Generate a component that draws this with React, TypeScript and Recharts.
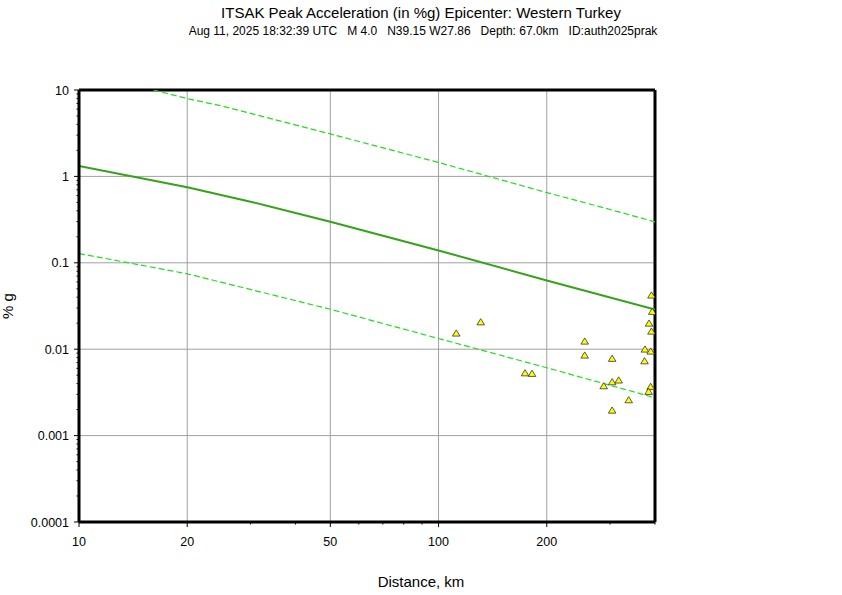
import React from "react";
import {
  ComposedChart,
  Line,
  Scatter,
  XAxis,
  YAxis,
  ReferenceLine,
} from "recharts";

// ---- Data ----
const medianDist = [10, 20, 30, 50, 100, 200, 400];
const medianPga = [1.32, 0.75, 0.51, 0.298, 0.139, 0.0623, 0.0288];

const upperDist = [16.1, 20, 24.7, 50, 100, 200, 282, 400];
const upperPga = [10, 7.95, 6.6, 3.1, 1.45, 0.65, 0.444, 0.298];

const lowerDist = [10, 20, 50, 100, 200, 400];
const lowerPga = [0.128, 0.0746, 0.029, 0.0133, 0.0061, 0.00274];

const stationDist = [
  112, 131, 174, 182, 255, 255, 304, 288, 304, 317, 304, 338, 391, 393, 385,
  391, 375, 389, 374, 389, 384,
];
const stationPga = [
  0.0152, 0.0205, 0.00527, 0.00519, 0.01227, 0.00845, 0.00775, 0.00373,
  0.00415, 0.00435, 0.00195, 0.00257, 0.0419, 0.0271, 0.0198, 0.016, 0.00992,
  0.0094, 0.00726, 0.00367, 0.00321,
];

const xMajorTicks = [10, 20, 50, 100, 200];
const xMinorTicks = [30, 40, 60, 70, 80, 90, 300, 400];
const yMajorTicks = [0.0001, 0.001, 0.01, 0.1, 1, 10];
const yMinorTicks = [
  0.0002, 0.0003, 0.0004, 0.0005, 0.0006, 0.0007, 0.0008, 0.0009,
  0.002, 0.003, 0.004, 0.005, 0.006, 0.007, 0.008, 0.009,
  0.02, 0.03, 0.04, 0.05, 0.06, 0.07, 0.08, 0.09,
  0.2, 0.3, 0.4, 0.5, 0.6, 0.7, 0.8, 0.9,
  2, 3, 4, 5, 6, 7, 8, 9,
];
const yTickLabels = ["0.0001", "0.001", "0.01", "0.1", "1", "10"];

const titleText = "ITSAK Peak Acceleration (in %g) Epicenter: Western Turkey";
const subtitleParts = [
  "Aug 11, 2025 18:32:39 UTC",
  "M 4.0",
  "N39.15 W27.86",
  "Depth: 67.0km",
  "ID:auth2025prak",
];
const xLabelText = "Distance, km";
const yLabelText = "% g";

// ---- Built tables ----
const medianData = medianDist.map((d, i) => ({ x: d, y: medianPga[i] }));
const upperData = upperDist.map((d, i) => ({ x: d, y: upperPga[i] }));
const lowerData = lowerDist.map((d, i) => ({ x: d, y: lowerPga[i] }));
const stationData = stationDist.map((d, i) => ({ x: d, y: stationPga[i] }));

const xAllTicks = [...xMajorTicks, ...xMinorTicks].sort((a, b) => a - b);
const yAllTicks = [...yMajorTicks, ...yMinorTicks].sort((a, b) => a - b);

const NB = "\u00A0";
const subtitleText = subtitleParts.join(NB + NB + NB);

const FONT = "'Liberation Sans', Arial, Helvetica, sans-serif";

const isXMajor = (v: number) => xMajorTicks.includes(v);
const isYMajor = (v: number) => yMajorTicks.includes(v);

const BottomTick = (props: any) => {
  const { x, y, payload } = props;
  const v = payload.value;
  const major = isXMajor(v);
  return (
    <g>
      <line x1={x} x2={x} y1={y} y2={y + (major ? 5 : 2.5)} stroke="#000" strokeWidth={1} />
      {major && (
        <text x={x} y={y + 24} textAnchor="middle" fontSize={12.5} fontFamily={FONT} fill="#000">
          {String(v)}
        </text>
      )}
    </g>
  );
};

const TopTick = (props: any) => {
  const { x, y, payload } = props;
  const major = isXMajor(payload.value);
  return <line x1={x} x2={x} y1={y} y2={y - (major ? 5 : 2.5)} stroke="#000" strokeWidth={1} />;
};

const LeftTick = (props: any) => {
  const { x, y, payload } = props;
  const v = payload.value;
  const idx = yMajorTicks.indexOf(v);
  const major = idx >= 0;
  return (
    <g>
      <line x1={x} x2={x - (major ? 5 : 2.5)} y1={y} y2={y} stroke="#000" strokeWidth={1} />
      {major && (
        <text x={x - 10} y={y} dy="0.36em" textAnchor="end" fontSize={12.5} fontFamily={FONT} fill="#000">
          {yTickLabels[idx]}
        </text>
      )}
    </g>
  );
};

const RightTick = (props: any) => {
  const { x, y, payload } = props;
  const major = isYMajor(payload.value);
  return <line x1={x} x2={x + (major ? 5 : 2.5)} y1={y} y2={y} stroke="#000" strokeWidth={1} />;
};

const Triangle = (props: any) => {
  const { cx, cy } = props;
  if (cx == null || cy == null) return null;
  const pts = `${cx},${cy - 3.6} ${cx - 3.8},${cy + 2.6} ${cx + 3.8},${cy + 2.6}`;
  return <polygon points={pts} fill="#ffff00" stroke="#333" strokeWidth={0.8} />;
};

export default function App() {
  return (
    <div style={{ position: "absolute", left: 0, top: 0, width: 842, height: 595, background: "#fff" }}>
      <ComposedChart
        width={842}
        height={595}
        margin={{ top: 90, right: 187, bottom: 43, left: 19 }}
      >
        <XAxis
          xAxisId={0}
          dataKey="x"
          type="number"
          scale="log"
          domain={[10, 400]}
          allowDataOverflow
          ticks={xAllTicks}
          interval={0}
          tick={<BottomTick />}
          tickSize={0}
          tickMargin={0}
          tickLine={false}
          axisLine={{ stroke: "#000", strokeWidth: 3 }}
          height={30}
        />
        <XAxis
          xAxisId="top"
          orientation="top"
          dataKey="x"
          type="number"
          scale="log"
          domain={[10, 400]}
          allowDataOverflow
          ticks={xAllTicks}
          interval={0}
          tick={<TopTick />}
          tickSize={0}
          tickMargin={0}
          tickLine={false}
          axisLine={{ stroke: "#000", strokeWidth: 3 }}
          height={0}
        />
        <YAxis
          yAxisId={0}
          dataKey="y"
          type="number"
          scale="log"
          domain={[0.0001, 10]}
          allowDataOverflow
          ticks={yAllTicks}
          interval={0}
          tick={<LeftTick />}
          tickSize={0}
          tickMargin={0}
          tickLine={false}
          axisLine={{ stroke: "#000", strokeWidth: 3 }}
          width={60}
        />
        <YAxis
          yAxisId="right"
          orientation="right"
          dataKey="y"
          type="number"
          scale="log"
          domain={[0.0001, 10]}
          allowDataOverflow
          ticks={yAllTicks}
          interval={0}
          tick={<RightTick />}
          tickSize={0}
          tickMargin={0}
          tickLine={false}
          axisLine={{ stroke: "#000", strokeWidth: 3 }}
          width={0}
        />

        {xMajorTicks.slice(1).map((v) => (
          <ReferenceLine key={"gx" + v} x={v} stroke="#a0a0a0" strokeWidth={1} />
        ))}
        {yMajorTicks.slice(1, -1).map((v) => (
          <ReferenceLine key={"gy" + v} y={v} stroke="#a0a0a0" strokeWidth={1} />
        ))}
        <ReferenceLine x={400} stroke="#000" strokeWidth={3} />
        <ReferenceLine y={10} stroke="#000" strokeWidth={3} />

        <Line
          data={medianData}
          dataKey="y"
          xAxisId="top"
          yAxisId="right"
          stroke="none"
          strokeWidth={0}
          dot={false}
          legendType="none"
          isAnimationActive={false}
        />

        <Line
          data={upperData}
          dataKey="y"
          type="linear"
          stroke="#22dd22"
          strokeWidth={1.2}
          strokeDasharray="6 3"
          dot={false}
          isAnimationActive={false}
        />
        <Line
          data={lowerData}
          dataKey="y"
          type="linear"
          stroke="#22dd22"
          strokeWidth={1.2}
          strokeDasharray="6 3"
          dot={false}
          isAnimationActive={false}
        />
        <Line
          data={medianData}
          dataKey="y"
          type="linear"
          stroke="#33a319"
          strokeWidth={2}
          dot={false}
          isAnimationActive={false}
        />
        <Scatter data={stationData} dataKey="y" shape={<Triangle />} isAnimationActive={false} />
      </ComposedChart>

      <svg
        width={842}
        height={595}
        style={{ position: "absolute", left: 0, top: 0, pointerEvents: "none" }}
      >
        <text x={421} y={18} textAnchor="middle" fontSize={15} fontFamily={FONT} fill="#000">
          {titleText}
        </text>
        <text x={423} y={35} textAnchor="middle" fontSize={12} fontFamily={FONT} fill="#000">
          {subtitleText}
        </text>
        <text x={421} y={587} textAnchor="middle" fontSize={15} fontFamily={FONT} fill="#000">
          {xLabelText}
        </text>
        <text
          x={13}
          y={306}
          textAnchor="middle"
          fontSize={15}
          fontFamily={FONT}
          fill="#000"
          transform="rotate(-90 13 306)"
        >
          {yLabelText}
        </text>
      </svg>
    </div>
  );
}
